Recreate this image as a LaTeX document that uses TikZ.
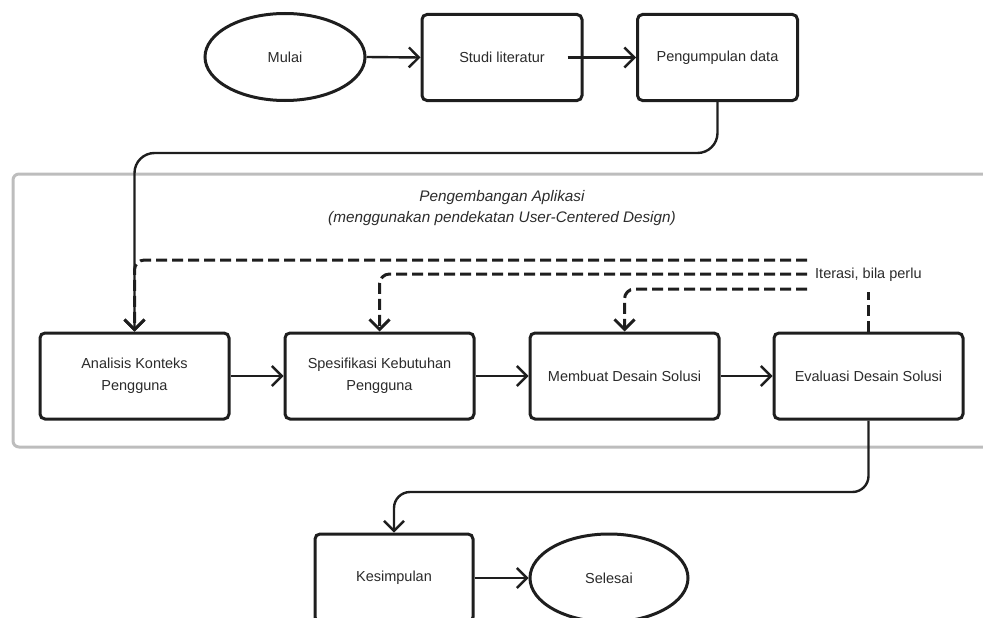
\documentclass[tikz,border=0pt]{standalone}
\usepackage{fontspec}
\setmainfont{Liberation Sans}
\usetikzlibrary{arrows.meta,shapes.geometric}
\definecolor{ink}{HTML}{1E1E1E}
\definecolor{txt}{HTML}{2B2B2B}
\definecolor{framegray}{HTML}{BDBDBD}
\begin{document}
\begin{tikzpicture}[x=1pt,y=-1pt,
  lbl/.style={text=txt,font=\fontsize{14.5}{22}\selectfont,align=center},
  stepbox/.style={lbl,draw=ink,line width=3pt,rounded corners=5pt,fill=white,
    minimum width=160pt,minimum height=86pt,inner sep=0pt},
  rowbox/.style={stepbox,minimum width=189pt},
  oval/.style={lbl,ellipse,draw=ink,line width=3pt,fill=white,
    minimum width=160pt,minimum height=87pt,inner sep=0pt},
  tip/.style={-{Straight Barb[length=10pt,width=20pt]}},
  conn/.style={draw=ink,line width=2.4pt,tip},
  iterline/.style={draw=ink,line width=3pt,dash pattern=on 11pt off 5pt,rounded corners=10pt}]
\useasboundingbox (0,0) rectangle (983,618);

% container
\draw[framegray,line width=3pt,rounded corners=6pt] (13,174) rectangle (1000,447);
\node[lbl,font=\itshape\fontsize{15.3}{21}\selectfont] (title) at (502,208.5)
  {Pengembangan Aplikasi\\(menggunakan pendekatan User-Centered Design)};

% top row
\node[oval] (mulai) at (285,57) {Mulai};
\node[stepbox] (studi) at (502,57.5) {Studi literatur};
\node[stepbox] (kumpul) at (717.5,57.5) {Pengumpulan data};

% middle row
\node[rowbox] (analisis) at (134.5,376) {Analisis Konteks\\Pengguna};
\node[rowbox] (spesifikasi) at (379.5,376) {Spesifikasi Kebutuhan\\Pengguna};
\node[rowbox] (membuat) at (624.5,376) {Membuat Desain Solusi};
\node[rowbox] (evaluasi) at (868.5,376) {Evaluasi Desain Solusi};

% bottom row
\node[stepbox,minimum width=158pt,minimum height=88pt] (kesimpulan) at (394,578) {Kesimpulan};
\node[oval,minimum width=158pt,minimum height=88pt] (selesai) at (609,578) {Selesai};

% connectors
\draw[conn] (mulai.east) -- (studi.west);
\draw[conn] ([xshift=-16pt]studi.east) -- (kumpul.west);

\coordinate (h1) at (0,153);
\draw[conn,rounded corners=20pt] (kumpul.south) -- (kumpul.south |- h1)
  -- (analisis.north |- h1) -- (analisis.north);

\draw[conn] (analisis.east) -- (spesifikasi.west);
\draw[conn] (spesifikasi.east) -- (membuat.west);
\draw[conn] (membuat.east) -- (evaluasi.west);

\coordinate (h2) at (0,492);
\draw[conn,rounded corners=16pt] (evaluasi.south) -- (evaluasi.south |- h2)
  -- (kesimpulan.north |- h2) -- (kesimpulan.north);

\draw[conn] (kesimpulan.east) -- (selesai.west);

% iteration
\coordinate (d1) at (807,260);
\coordinate (d2) at (807,274);
\coordinate (d3) at (807,289);
\coordinate (stub) at (868.5,292);
\draw[iterline,tip] (d1) -| (analisis.north);
\draw[iterline,tip] (d2) -| (spesifikasi.north);
\draw[iterline,tip] (d3) -| (membuat.north);
\draw[iterline] (evaluasi.north) -- (stub);
\node[lbl,anchor=west,inner sep=0pt] (iter) at (815,275) {Iterasi, bila perlu};
\end{tikzpicture}
\end{document}
